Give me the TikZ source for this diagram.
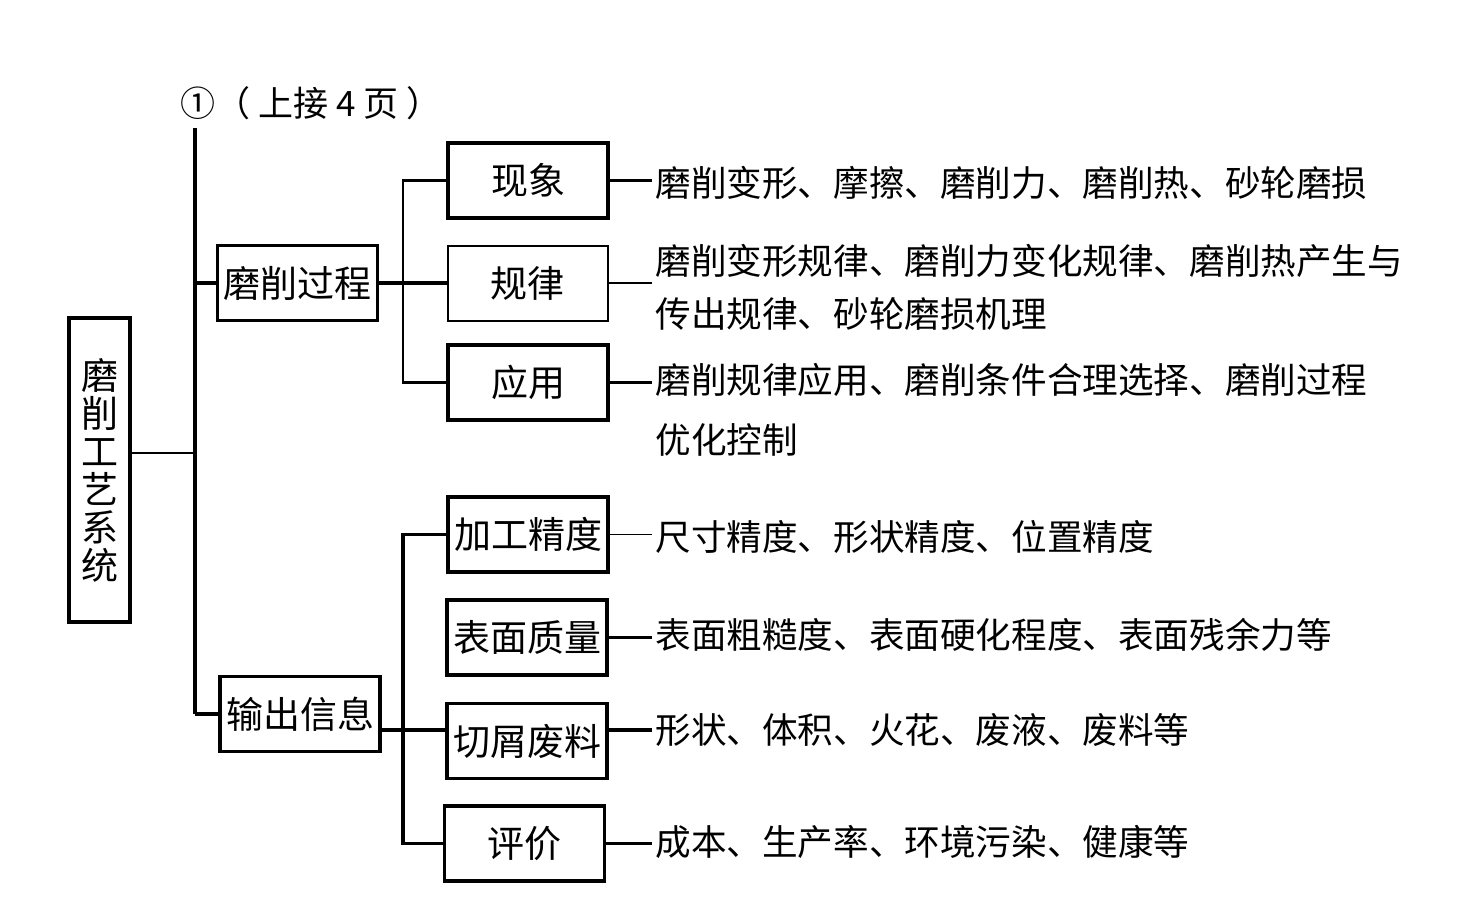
\documentclass[tikz,border=0pt]{standalone}
\usepackage{fontspec}
\newfontfamily\cjk{Noto Sans CJK SC}
\begin{document}
\begin{tikzpicture}[x=0.5pt,y=-0.5pt,
    box/.style={draw, line width=1.8pt, minimum width=80pt, minimum height=37.5pt, inner sep=0pt, font=\cjk\fontsize{18.5}{22}\selectfont},
    detail/.style={anchor=west, inner ysep=0pt, inner xsep=1.5pt, align=left, font=\cjk\fontsize{17.8}{26.5}\selectfont},
    link/.style={line width=1.6pt},
    thinlink/.style={line width=0.7pt}]
        \useasboundingbox (0,0) rectangle (1480,906);
        \node[box, minimum width=30.5pt, minimum height=152pt, align=center, font=\cjk\fontsize{18.5}{19}\selectfont] (sys) at (99.5,470) {磨\\削\\工\\艺\\系\\统};
        \node[font=\cjk\fontsize{17.5}{20}\selectfont, inner sep=0pt] (head) at (311,103) {①（ 上接 4 页 ）};
        \node[box] (proc) at (297.5,283) {磨削过程};
        \node[box] (out) at (300,714) {输出信息};
        \node[box] (phen) at (528,180.5) {现象};
        \node[box, line width=1pt] (rule) at (527.5,283) {规律};
        \node[box] (app) at (528,382.5) {应用};
        \node[box] (prec) at (528,534.5) {加工精度};
        \node[box] (surf) at (527,637.5) {表面质量};
        \node[box] (chip) at (527,741) {切屑废料};
        \node[box] (eval) at (524.5,843.5) {评价};
        \node[detail] (d1) at (652,183) {磨削变形、摩擦、磨削力、磨削热、砂轮磨损};
        \node[detail] (d2) at (652,287) {磨削变形规律、磨削力变化规律、磨削热产生与\\传出规律、砂轮磨损机理};
        \node[detail, font=\cjk\fontsize{17.8}{30}\selectfont] (d3) at (652,410) {磨削规律应用、磨削条件合理选择、磨削过程\\优化控制};
        \node[detail] (d4) at (652,537) {尺寸精度、形状精度、位置精度};
        \node[detail] (d5) at (652,635) {表面粗糙度、表面硬化程度、表面残余力等};
        \node[detail] (d6) at (652,730) {形状、体积、火花、废液、废料等};
        \node[detail] (d7) at (652,842) {成本、生产率、环境污染、健康等};
        \coordinate (trunk) at (195,128);
        \coordinate (tj) at (195,453);
        \coordinate (pj) at (403,283);
        \coordinate (cj) at (403,730);
        \draw[line width=2pt] (trunk) -- (trunk |- out.west);
        \draw[thinlink] (sys.east |- tj) -- (tj);
        \draw[link] (trunk |- proc.west) -- (proc.west);
        \draw[link] (trunk |- out.west) -- (out.west);
        \draw[link] (proc.east) -- (rule.west);
        \draw[line width=1.2pt] (phen.west) -- (phen.west -| pj) -- (app.west -| pj) -- (app.west);
        \draw[link] (out.east |- cj) -- (chip.west |- cj);
        \draw[link] (prec.west) -- (prec.west -| cj) -- (eval.west -| cj) -- (eval.west);
        \draw[line width=1.8pt] (phen.east) -- (phen.east -| d1.west);
        \draw[thinlink] (rule.east) -- (rule.east -| d2.west);
        \draw[link] (app.east) -- (app.east -| d3.west);
        \draw[thinlink] (prec.east) -- (prec.east -| d4.west);
        \draw[link] (surf.east) -- (surf.east -| d5.west);
        \draw[link] (chip.east |- cj) -- (d6.west |- cj);
        \draw[link] (eval.east) -- (eval.east -| d7.west);
\end{tikzpicture}
\end{document}
